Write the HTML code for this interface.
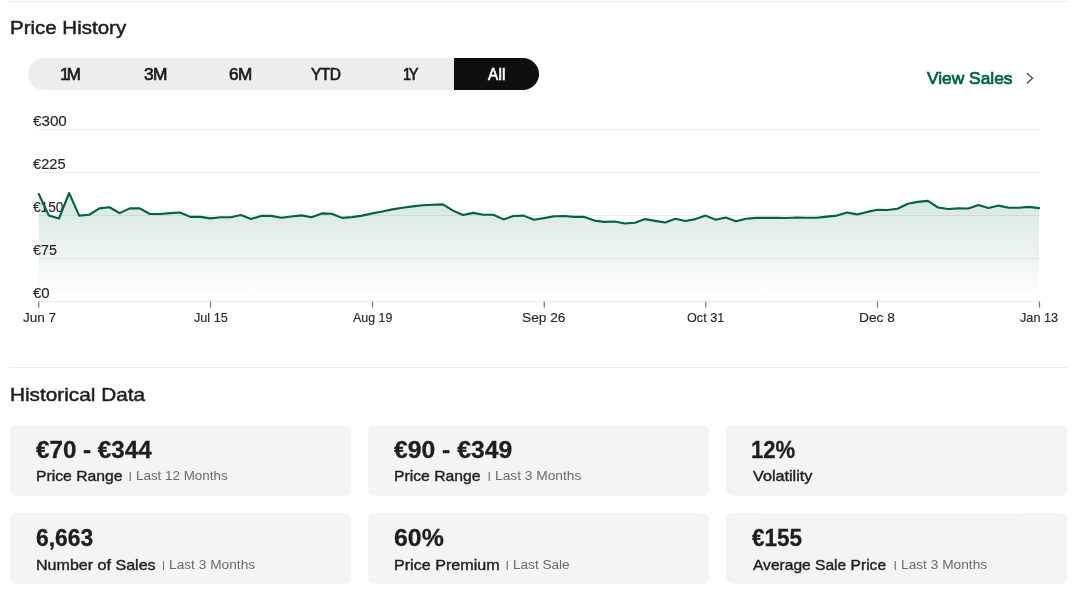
<!DOCTYPE html>
<html lang="en">
<head>
<meta charset="utf-8">
<title>Price History</title>
<style>
*{box-sizing:border-box;margin:0;padding:0}
html,body{width:1080px;height:594px;background:#fff;overflow:hidden}
body{position:relative;font-family:"Liberation Sans",Arial,sans-serif;color:#1e1e1e}
.p{position:absolute;white-space:nowrap;transform-origin:0 0;line-height:1;display:block;font-weight:normal;font-style:normal;text-decoration:none}
.hr{position:absolute;left:9px;width:1059px;height:1px;background:#ececec}
.h{font-size:19px;color:#1e1e1e;-webkit-text-stroke:0.5px #1e1e1e}
.t{font-size:16px;color:#1a1a1a;-webkit-text-stroke:0.65px #1a1a1a;letter-spacing:-0.6px}
.t .k{letter-spacing:-2.6px}
.t.w{color:#fff;-webkit-text-stroke:0.6px #fff;letter-spacing:0.2px}
.vs{font-size:17px;color:#006340;-webkit-text-stroke:0.7px #006340}
.y{font-size:14px;color:#262626;-webkit-text-stroke:0.15px #262626}
.x{font-size:13.5px;color:#262626;-webkit-text-stroke:0.15px #262626}
.p.v{font-size:23px;font-weight:bold;color:#1e1e1e;-webkit-text-stroke:0.3px #1e1e1e}
.l{font-size:14.5px;color:#1e1e1e;-webkit-text-stroke:0.38px #1e1e1e}
.s{font-size:13.5px;color:#6b6b6b}
.b{font-size:9.5px;color:#5a5a5a;-webkit-text-stroke:0.15px #5a5a5a}
.tabs{position:absolute;left:28px;top:58px;width:511px;height:32px;border-radius:16px;background:#ededed;overflow:hidden}
.tabs b{position:absolute;left:426px;top:0;width:85px;height:32px;background:#0f0f0f}
.abs{position:absolute}
</style>
</head>
<body>
<section class="price-history">
<div class="hr" style="top:1px"></div>
<h2 class="p h" id="p0" style="left:9.58px;top:18.00px;transform:scaleX(1.0784)">Price History</h2>
<nav class="range">
<div class="tabs"><b></b></div>
<span class="p t" id="p2" style="left:59.90px;top:67.00px;transform:scaleX(1.0595)"><span class="k">1</span>M</span>
<span class="p t" id="p3" style="left:144.00px;top:67.00px;transform:scaleX(1.0837)">3M</span>
<span class="p t" id="p4" style="left:229.01px;top:67.00px;transform:scaleX(1.0701)">6M</span>
<span class="p t" id="p5" style="left:311.02px;top:67.00px;transform:scaleX(0.9685)">YTD</span>
<span class="p t" id="p6" style="left:402.91px;top:67.00px;transform:scaleX(0.9101)"><span class="k">1</span>Y</span>
<span class="p t w" id="p7" style="left:488.06px;top:67.00px;transform:scaleX(0.9587)">All</span>
</nav>
<div class="view-sales">
<a class="p vs" id="p8" style="left:927.44px;top:70.00px;transform:scaleX(1.0204)">View Sales</a>
<svg class="abs" style="left:1022px;top:70px" width="16" height="16" viewBox="0 0 16 16"><path d="M5 3.2 L10.6 8.2 L5 13.2" fill="none" stroke="#3b4a43" stroke-width="1.25"/></svg>
</div>
<div class="chart">
<div class="y-axis">
<div class="p y" id="p9" style="left:32.93px;top:114.00px;transform:scaleX(1.0861)">€300</div>
<div class="p y" id="p10" style="left:32.95px;top:157.00px;transform:scaleX(1.0468)">€225</div>
<div class="p y" id="p11" style="left:32.98px;top:200.00px;transform:scaleX(0.9769)">€150</div>
<div class="p y" id="p12" style="left:32.97px;top:243.00px;transform:scaleX(1.0239)">€75</div>
<div class="p y" id="p13" style="left:32.94px;top:286.00px;transform:scaleX(1.0733)">€0</div>
</div>
<svg class="abs" style="left:0;top:100px" width="1080" height="215" viewBox="0 100 1080 215">
<defs><linearGradient id="g" x1="0" y1="190" x2="0" y2="301" gradientUnits="userSpaceOnUse">
<stop offset="0" stop-color="#006340" stop-opacity="0.17"/>
<stop offset="1" stop-color="#006340" stop-opacity="0.0"/>
</linearGradient></defs>
<g stroke="#ebebeb" stroke-width="1" shape-rendering="crispEdges">
<line x1="39" y1="129.5" x2="1040" y2="129.5"/>
<line x1="39" y1="172.5" x2="1040" y2="172.5"/>
<line x1="39" y1="215.5" x2="1040" y2="215.5"/>
<line x1="39" y1="258.5" x2="1040" y2="258.5"/>
<line x1="39" y1="301.5" x2="1040" y2="301.5"/>
</g>
<path d="M38.8,194 L48.9,215.6 L59.0,218.5 L69.1,193 L79.2,215.6 L89.3,214.75 L99.4,208.4 L109.5,207.25 L119.6,213.1 L129.7,208.4 L139.8,208.4 L149.9,214 L160.0,214 L170.1,213.1 L180.2,212.5 L190.3,216.9 L200.4,216.9 L210.6,218.4 L220.7,217.25 L230.8,217.25 L240.9,215 L251.0,219 L261.1,215.9 L271.2,215.9 L281.3,217.75 L291.4,216.5 L301.5,215.4 L311.6,217.25 L321.7,213.4 L331.8,213.75 L341.9,217.9 L352.0,217.1 L362.1,215.6 L372.2,213.4 L382.3,211.5 L392.4,209.4 L402.5,207.75 L412.6,206.4 L422.7,205.25 L432.8,204.75 L442.9,204.4 L453.0,210.6 L463.1,215 L473.2,212.9 L483.3,214.75 L493.4,214.75 L503.5,219.4 L513.6,216 L523.7,215.6 L533.8,219.7 L544.0,218.1 L554.1,216.25 L564.2,216 L574.3,216.9 L584.4,216.9 L594.5,220.6 L604.6,221.9 L614.7,221.5 L624.8,223.5 L634.9,222.75 L645.0,219.1 L655.1,220.9 L665.2,222.5 L675.3,218.75 L685.4,221 L695.5,219.1 L705.6,215.6 L715.7,219.75 L725.8,217.5 L735.9,221.25 L746.0,218.75 L756.1,217.9 L766.2,217.9 L776.3,217.9 L786.4,218 L796.5,217.5 L806.6,217.75 L816.7,217.75 L826.8,216.6 L836.9,215.6 L847.0,212.5 L857.1,214.4 L867.2,211.9 L877.4,209.75 L887.5,210 L897.6,208.75 L907.7,203.75 L917.8,201.9 L927.9,200.9 L938.0,207.5 L948.1,209 L958.2,208.4 L968.3,208.5 L978.4,205 L988.5,208.1 L998.6,205.6 L1008.7,207.75 L1018.8,207.75 L1028.9,206.9 L1039.0,208.1 L1039.0,301 L38.8,301 Z" fill="url(#g)"/>
<path d="M38.8,194 L48.9,215.6 L59.0,218.5 L69.1,193 L79.2,215.6 L89.3,214.75 L99.4,208.4 L109.5,207.25 L119.6,213.1 L129.7,208.4 L139.8,208.4 L149.9,214 L160.0,214 L170.1,213.1 L180.2,212.5 L190.3,216.9 L200.4,216.9 L210.6,218.4 L220.7,217.25 L230.8,217.25 L240.9,215 L251.0,219 L261.1,215.9 L271.2,215.9 L281.3,217.75 L291.4,216.5 L301.5,215.4 L311.6,217.25 L321.7,213.4 L331.8,213.75 L341.9,217.9 L352.0,217.1 L362.1,215.6 L372.2,213.4 L382.3,211.5 L392.4,209.4 L402.5,207.75 L412.6,206.4 L422.7,205.25 L432.8,204.75 L442.9,204.4 L453.0,210.6 L463.1,215 L473.2,212.9 L483.3,214.75 L493.4,214.75 L503.5,219.4 L513.6,216 L523.7,215.6 L533.8,219.7 L544.0,218.1 L554.1,216.25 L564.2,216 L574.3,216.9 L584.4,216.9 L594.5,220.6 L604.6,221.9 L614.7,221.5 L624.8,223.5 L634.9,222.75 L645.0,219.1 L655.1,220.9 L665.2,222.5 L675.3,218.75 L685.4,221 L695.5,219.1 L705.6,215.6 L715.7,219.75 L725.8,217.5 L735.9,221.25 L746.0,218.75 L756.1,217.9 L766.2,217.9 L776.3,217.9 L786.4,218 L796.5,217.5 L806.6,217.75 L816.7,217.75 L826.8,216.6 L836.9,215.6 L847.0,212.5 L857.1,214.4 L867.2,211.9 L877.4,209.75 L887.5,210 L897.6,208.75 L907.7,203.75 L917.8,201.9 L927.9,200.9 L938.0,207.5 L948.1,209 L958.2,208.4 L968.3,208.5 L978.4,205 L988.5,208.1 L998.6,205.6 L1008.7,207.75 L1018.8,207.75 L1028.9,206.9 L1039.0,208.1" fill="none" stroke="#00633f" stroke-width="2.1" stroke-linejoin="round" stroke-linecap="round"/>
<g fill="#777">
<rect x="38.15" y="301.6" width="1.2" height="6"/>
<rect x="209.9" y="301.6" width="1.2" height="6"/>
<rect x="371.9" y="301.6" width="1.2" height="6"/>
<rect x="543.65" y="301.6" width="1.2" height="6"/>
<rect x="705.15" y="301.6" width="1.2" height="6"/>
<rect x="876.9" y="301.6" width="1.2" height="6"/>
<rect x="1038.9" y="301.6" width="1.2" height="6"/>
</g>
</svg>
<div class="x-axis">
<div class="p x" id="p14" style="left:22.53px;top:311.00px;transform:scaleX(1.0010)">Jun 7</div>
<div class="p x" id="p15" style="left:194.00px;top:311.00px;transform:scaleX(0.9380)">Jul 15</div>
<div class="p x" id="p16" style="left:352.70px;top:311.00px;transform:scaleX(0.9185)">Aug 19</div>
<div class="p x" id="p17" style="left:521.96px;top:311.00px;transform:scaleX(1.0151)">Sep 26</div>
<div class="p x" id="p18" style="left:686.98px;top:311.00px;transform:scaleX(0.9364)">Oct 31</div>
<div class="p x" id="p19" style="left:859.45px;top:311.00px;transform:scaleX(1.0207)">Dec 8</div>
<div class="p x" id="p20" style="left:1020.09px;top:311.00px;transform:scaleX(0.9393)">Jan 13</div>
</div>
</div>
</section>
<section class="historical-data">
<div class="hr" style="top:367px"></div>
<h2 class="p h" id="p1" style="left:10.21px;top:385.00px;transform:scaleX(1.0932)">Historical Data</h2>
<svg class="abs cards" style="left:0;top:420px" width="1080" height="174" viewBox="0 420 1080 174"><g fill="#f5f4f2">
<rect x="10.15" y="425.1" width="340.85" height="70.6" rx="6" ry="6"/>
<rect x="368.25" y="425.1" width="340.85" height="70.6" rx="6" ry="6"/>
<rect x="726.4" y="425.1" width="340.85" height="70.6" rx="6" ry="6"/>
<rect x="10.15" y="513.25" width="340.85" height="70.5" rx="6" ry="6"/>
<rect x="368.25" y="513.25" width="340.85" height="70.5" rx="6" ry="6"/>
<rect x="726.4" y="513.25" width="340.85" height="70.5" rx="6" ry="6"/>
</g></svg>
<div class="stat">
<strong class="p v" id="p21" style="left:35.71px;top:439.00px;transform:scaleX(1.0513)">€70 - €344</strong>
<span class="p l" id="p27" style="left:35.82px;top:469.00px;transform:scaleX(1.0853)">Price Range</span>
<i class="p b" id="p38" style="left:128.98px;top:471.00px;transform:scaleX(1.0000)">|</i>
<small class="p s" id="p33" style="left:136.40px;top:469.00px;transform:scaleX(0.9927)">Last 12 Months</small>
</div>
<div class="stat">
<strong class="p v" id="p22" style="left:394.13px;top:439.00px;transform:scaleX(1.0746)">€90 - €349</strong>
<span class="p l" id="p28" style="left:393.82px;top:469.00px;transform:scaleX(1.0853)">Price Range</span>
<i class="p b" id="p39" style="left:487.97px;top:471.00px;transform:scaleX(1.0000)">|</i>
<small class="p s" id="p34" style="left:495.03px;top:469.00px;transform:scaleX(1.0181)">Last 3 Months</small>
</div>
<div class="stat">
<strong class="p v" id="p23" style="left:750.99px;top:439.00px;transform:scaleX(0.9583)">12%</strong>
<span class="p l" id="p29" style="left:752.82px;top:469.00px;transform:scaleX(1.1152)">Volatility</span>
</div>
<div class="stat">
<strong class="p v" id="p24" style="left:36.15px;top:527.00px;transform:scaleX(0.9939)">6,663</strong>
<span class="p l" id="p30" style="left:35.77px;top:558.00px;transform:scaleX(1.1074)">Number of Sales</span>
<i class="p b" id="p40" style="left:162.32px;top:560.00px;transform:scaleX(1.0000)">|</i>
<small class="p s" id="p35" style="left:169.31px;top:558.00px;transform:scaleX(1.0159)">Last 3 Months</small>
</div>
<div class="stat">
<strong class="p v" id="p25" style="left:393.82px;top:527.00px;transform:scaleX(1.0833)">60%</strong>
<span class="p l" id="p31" style="left:393.76px;top:558.00px;transform:scaleX(1.1107)">Price Premium</span>
<i class="p b" id="p41" style="left:505.97px;top:560.00px;transform:scaleX(1.0000)">|</i>
<small class="p s" id="p36" style="left:513.07px;top:558.00px;transform:scaleX(1.0068)">Last Sale</small>
</div>
<div class="stat">
<strong class="p v" id="p26" style="left:752.12px;top:527.00px;transform:scaleX(0.9774)">€155</strong>
<span class="p l" id="p32" style="left:753.11px;top:558.00px;transform:scaleX(1.0742)">Average Sale Price</span>
<i class="p b" id="p42" style="left:893.98px;top:560.00px;transform:scaleX(1.0000)">|</i>
<small class="p s" id="p37" style="left:901.04px;top:558.00px;transform:scaleX(1.0159)">Last 3 Months</small>
</div>
</section>
</body>
</html>
